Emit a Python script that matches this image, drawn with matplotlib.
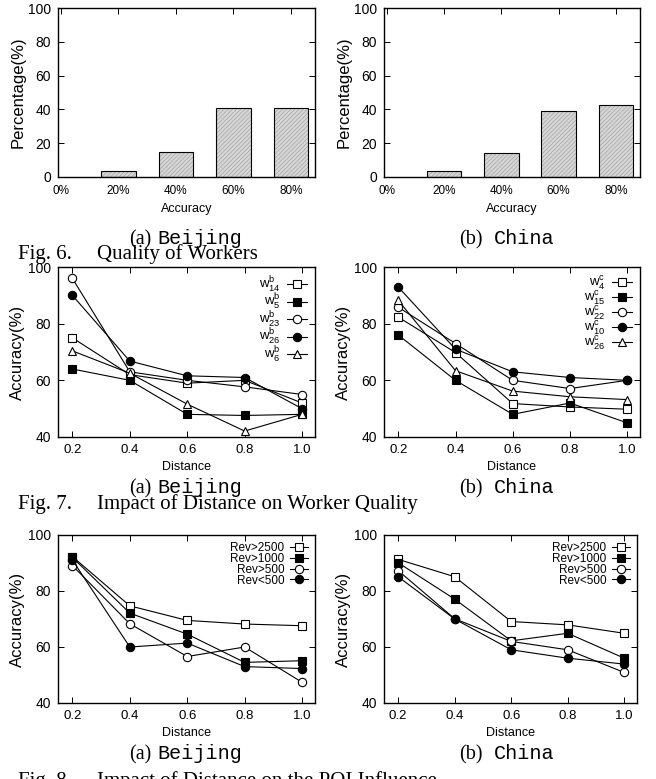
import matplotlib
matplotlib.use("Agg")
import matplotlib.pyplot as plt

plt.rcParams['font.family'] = ['Liberation Sans', 'DejaVu Sans']
plt.rcParams['mathtext.fontset'] = 'custom'
plt.rcParams['mathtext.rm'] = 'Liberation Sans'
plt.rcParams['mathtext.it'] = 'Liberation Sans'
plt.rcParams['hatch.linewidth'] = 0.4

# Fig. 6 data
acc_labels = ["0%", "20%", "40%", "60%", "80%"]
bar_pos = [1, 2, 3, 4]
beijing_pct = [3.5, 15, 41, 41]
china_pct = [3.5, 14.2, 39.2, 42.7]

# Fig. 7 / Fig. 8 x values
distance = [0.2, 0.4, 0.6, 0.8, 1.0]

# Fig. 7 (a) Beijing
bj_w14 = [75, 62, 59, 60, 52]
bj_w5 = [64, 60, 48, 47.6, 48]
bj_w23 = [96, 63, 60, 57.7, 55]
bj_w26 = [90, 66.8, 61.6, 61, 50]
bj_w6 = [70.4, 62.5, 51.6, 42.1, 48]

# Fig. 7 (b) China
cn_w4 = [82.3, 69.8, 51.8, 50.6, 49.8]
cn_w15 = [76, 60, 48, 52, 45]
cn_w22 = [85.8, 73, 60, 57.1, 60]
cn_w10 = [92.9, 71, 63, 61, 60]
cn_w26 = [88.2, 63.4, 56.2, 54.2, 53.2]

# Fig. 8 (a) Beijing
bj_rev2500 = [92.3, 74.7, 69.5, 68.2, 67.6]
bj_rev1000 = [92, 72.1, 64.6, 54.5, 55.1]
bj_rev500 = [89.1, 68.3, 56.6, 60, 47.4]
bj_revlt500 = [91.1, 60, 61.4, 53, 52.3]

# Fig. 8 (b) China
cn_rev2500 = [91.3, 85.1, 69.1, 67.9, 64.9]
cn_rev1000 = [90.1, 77.1, 62.2, 64.9, 56]
cn_rev500 = [87.3, 70.1, 62, 59, 50.9]
cn_revlt500 = [85.1, 70, 59, 56, 53.9]

W, H = 656, 779
fig = plt.figure(figsize=(W / 100, H / 100), dpi=100)


def rect(x0, x1, top, bottom):
    return [x0 / W, (H - bottom) / H, (x1 - x0) / W, (bottom - top) / H]


def style(ax):
    ax.tick_params(direction='in', length=4, width=0.7, top=True, right=True,
                   labelsize=10, pad=5)
    for s in ax.spines.values():
        s.set_linewidth(1.0)


def bar_panel(ax, vals):
    ax.bar(bar_pos, vals, width=0.6, facecolor='#d6d6d6', edgecolor='#999999',
           hatch='////////', linewidth=0)
    ax.bar(bar_pos, vals, width=0.6, fill=False, edgecolor='black', linewidth=0.8)
    ax.set_xlim(-0.05, 4.42)
    ax.set_ylim(0, 100)
    ax.set_yticks([0, 20, 40, 60, 80, 100])
    ax.set_xticks(range(len(acc_labels)))
    ax.set_xticklabels(acc_labels)
    style(ax)
    ax.tick_params(axis='x', bottom=False, labelsize=8.5, pad=6)
    ax.set_xlabel("Accuracy", fontsize=9, labelpad=4)
    ax.set_ylabel("Percentage(%)", fontsize=12, labelpad=2)


markers = [('s', 'white'), ('s', 'black'), ('o', 'white'), ('o', 'black'), ('^', 'white')]


def line_panel(ax, series, labels, fs, lsp):
    for (m, fc), ys, lab in zip(markers, series, labels):
        ax.plot(distance, ys, color='black', lw=0.8, marker=m, markersize=6,
                markerfacecolor=fc, markeredgecolor='black', markeredgewidth=0.8,
                label=lab)
    ax.set_xlim(0.15, 1.045)
    ax.set_ylim(40, 100)
    ax.set_xticks(distance)
    ax.set_xticklabels(["0.2", "0.4", "0.6", "0.8", "1.0"])
    ax.set_yticks([40, 60, 80, 100])
    style(ax)
    ax.tick_params(axis='x', labelsize=9.5, pad=5)
    ax.set_xlabel("Distance", fontsize=9, labelpad=4)
    ax.set_ylabel("Accuracy(%)", fontsize=12, labelpad=2)
    ax.legend(loc='upper right', frameon=False, markerfirst=False, fontsize=fs,
              handlelength=1.5, handletextpad=0.5, labelspacing=lsp,
              borderaxespad=0.3, borderpad=0.3)


# Fig. 6
ax = fig.add_axes(rect(58, 315, 8, 177))
bar_panel(ax, beijing_pct)
ax = fig.add_axes(rect(384, 640, 8, 177))
bar_panel(ax, china_pct)

# Fig. 7
ax = fig.add_axes(rect(58, 315, 267, 437))
line_panel(ax, [bj_w14, bj_w5, bj_w23, bj_w26, bj_w6],
           [r'$\mathregular{w^{b}_{14}}$', r'$\mathregular{w^{b}_{5}}$',
            r'$\mathregular{w^{b}_{23}}$', r'$\mathregular{w^{b}_{26}}$',
            r'$\mathregular{w^{b}_{6}}$'], 9.5, -0.2)
ax = fig.add_axes(rect(384, 640, 267, 437))
line_panel(ax, [cn_w4, cn_w15, cn_w22, cn_w10, cn_w26],
           [r'$\mathregular{w^{c}_{4}}$', r'$\mathregular{w^{c}_{15}}$',
            r'$\mathregular{w^{c}_{22}}$', r'$\mathregular{w^{c}_{10}}$',
            r'$\mathregular{w^{c}_{26}}$'], 9.5, -0.2)

# Fig. 8
rev_labels = ["Rev>2500", "Rev>1000", "Rev>500", "Rev<500"]
ax = fig.add_axes(rect(58, 315, 535, 703))
line_panel(ax, [bj_rev2500, bj_rev1000, bj_rev500, bj_revlt500], rev_labels, 8.5, -0.1)
ax = fig.add_axes(rect(384, 637, 535, 703))
line_panel(ax, [cn_rev2500, cn_rev1000, cn_rev500, cn_revlt500], rev_labels, 8.5, -0.1)

# captions
serif = ['Liberation Serif', 'DejaVu Serif']
mono = ['Liberation Mono', 'DejaVu Sans Mono']


def subcap(xr, xl, yb, tag, name):
    fig.text(xr / W, (H - yb) / H, tag, family=serif, fontsize=14.5, ha='right', va='baseline')
    fig.text(xl / W, (H - yb) / H, name, family=mono, fontsize=14.5, ha='left', va='baseline')


def figcap(yb, num, title):
    fig.text(18 / W, (H - yb) / H, num, family=serif, fontsize=15, ha='left', va='baseline')
    fig.text(97 / W, (H - yb) / H, title, family=serif, fontsize=15, ha='left', va='baseline')


for yb in (244, 493, 759):
    subcap(151, 157, yb, "(a)", "Beijing")
    subcap(483, 494, yb, "(b)", "China")

figcap(259, "Fig. 6.", "Quality of Workers")
figcap(509, "Fig. 7.", "Impact of Distance on Worker Quality")
figcap(786, "Fig. 8.", "Impact of Distance on the POI Influence")

fig.savefig("out.png", dpi=100)
